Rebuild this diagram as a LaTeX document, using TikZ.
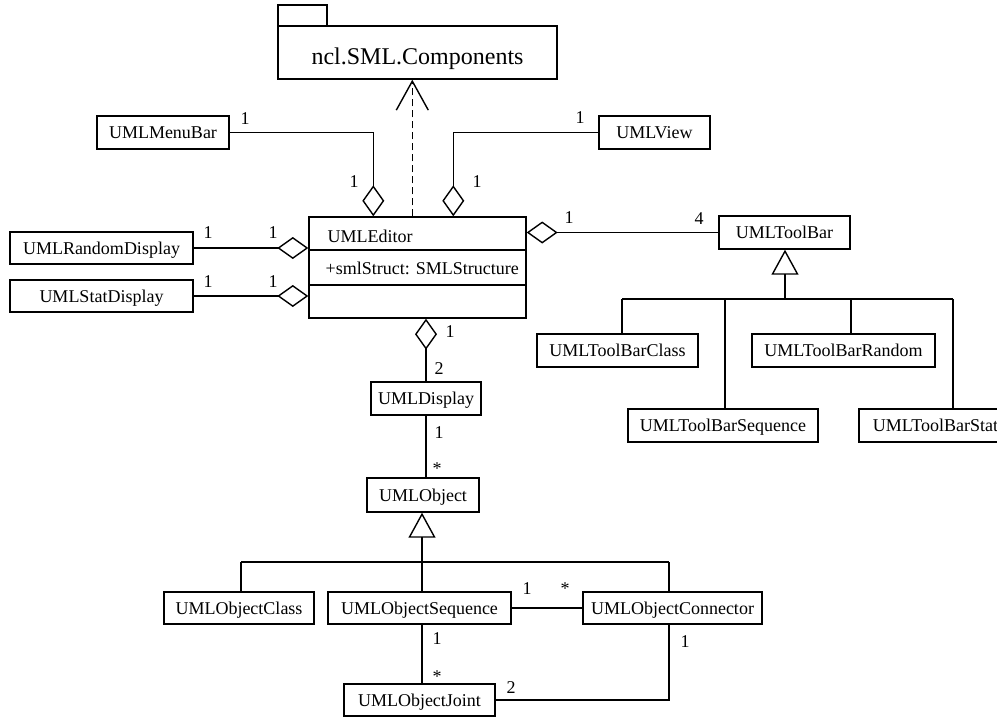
\documentclass[tikz,border=0pt]{standalone}
\usepackage{fontspec}
\setmainfont{Liberation Serif}
\usetikzlibrary{arrows.meta}
\begin{document}
\begin{tikzpicture}[x=1pt,y=-1pt,line width=1.4pt,
  cls/.style={draw, inner sep=0pt, text height=12pt, text depth=0pt,
              font=\fontsize{18}{20}\selectfont},
  lab/.style={inner sep=0pt, font=\fontsize{18}{20}\selectfont},
  star/.style={inner sep=0pt, font=\fontsize{18}{20}\selectfont, yshift=-3pt},
  agg/.style={-{Diamond[open,length=31pt,width=22pt]}},
  inh/.style={-{Triangle[open,length=25pt,width=27pt]}},
  dep/.style={dash pattern=on 7pt off 4pt,-{Straight Barb[length=29pt,width=32pt]}}]
\useasboundingbox (0,0) rectangle (997,717);
\clip (0,0) rectangle (997,717);

% package
\draw (278,5) rectangle (327,26);
\node[draw, inner sep=0pt, minimum width=279pt, minimum height=53pt] (pkg) at (417.5,52.5) {};
\node[inner sep=0pt, text height=16pt, text depth=0pt, font=\fontsize{24}{28}\selectfont]
  (pkgname) at (417.5,56.5) {ncl.SML.Components};

% editor class with compartments
\node[draw, inner sep=0pt, minimum width=217pt, minimum height=101pt] (editor) at (417.5,267.5) {};
\draw (309,250) -- (526,250);
\draw (309,285) -- (526,285);
\node[lab, anchor=base west] (edname) at (327,242) {UMLEditor};
\node[lab, anchor=base west] (edattr) at (325,274) {+smlStruct: SMLStructure};

% classes
\node[cls, minimum width=132pt, minimum height=33pt] (menubar) at (163,132.5) {UMLMenuBar};
\node[cls, minimum width=111pt, minimum height=33pt] (view) at (654.5,132.5) {UMLView};
\node[cls, minimum width=183pt, minimum height=32pt] (random) at (101.5,248) {UMLRandomDisplay};
\node[cls, minimum width=183pt, minimum height=32pt] (stat) at (101.5,296) {UMLStatDisplay};
\node[cls, minimum width=131pt, minimum height=33pt] (toolbar) at (784.5,232.5) {UMLToolBar};
\node[cls, minimum width=161pt, minimum height=33pt] (tbclass) at (617.5,350.5) {UMLToolBarClass};
\node[cls, minimum width=183pt, minimum height=33pt] (tbrandom) at (843.5,350.5) {UMLToolBarRandom};
\node[cls, minimum width=190pt, minimum height=33pt] (tbseq) at (723,425.5) {UMLToolBarSequence};
\node[cls, minimum width=153pt, minimum height=33pt] (tbstat) at (935.5,425.5) {UMLToolBarStat};
\node[cls, minimum width=110pt, minimum height=33pt] (display) at (426,398.5) {UMLDisplay};
\node[cls, minimum width=112pt, minimum height=34pt] (object) at (423,495) {UMLObject};
\node[cls, minimum width=150pt, minimum height=32pt] (objclass) at (239,608) {UMLObjectClass};
\node[cls, minimum width=183pt, minimum height=32pt] (objseq) at (419.5,608) {UMLObjectSequence};
\node[cls, minimum width=179pt, minimum height=32pt] (objconn) at (672.5,608) {UMLObjectConnector};
\node[cls, minimum width=151pt, minimum height=32pt] (objjoint) at (419.5,700) {UMLObjectJoint};

% dependency on the package
\draw[dep] ([xshift=104pt]editor.north west) -- ([xshift=104pt]editor.north west |- pkg.south);

% aggregations into the editor
\draw[agg] (menubar.east) -| ([xshift=65pt]editor.north west);
\draw[agg] (view.west) -| ([xshift=145pt]editor.north west);
\draw[agg] (random.east) -- (random.east -| editor.west);
\draw[agg] (stat.east) -- (stat.east -| editor.west);
\draw[agg] (toolbar.west) -- (toolbar.west -| editor.east);
\draw[agg] (display.north) -- (display.north |- editor.south);

% display to object
\draw (display.south) -- (display.south |- object.north);

% toolbar hierarchy
\coordinate (tj) at (785,299);
\coordinate (tb1) at (622,299);
\coordinate (tb2) at (725,299);
\coordinate (tb3) at (851,299);
\coordinate (tb4) at (953,299);
\draw[inh] (tj) -- (tj |- toolbar.south);
\draw (tb1) -- (tb4);
\draw (tb1) -- (tb1 |- tbclass.north);
\draw (tb2) -- (tb2 |- tbseq.north);
\draw (tb3) -- (tb3 |- tbrandom.north);
\draw (tb4) -- (tb4 |- tbstat.north);

% object hierarchy
\coordinate (oj) at (422,562);
\coordinate (ob1) at (241,562);
\coordinate (ob2) at (669,562);
\draw[inh] (oj |- objseq.north) -- (oj |- object.south);
\draw (ob1) -- (ob2);
\draw (ob1) -- (ob1 |- objclass.north);
\draw (ob2) -- (ob2 |- objconn.north);

% object associations
\draw (objseq.east) -- (objconn.west);
\draw (oj |- objseq.south) -- (oj |- objjoint.north);
\draw (objjoint.east) -| (ob2 |- objconn.south);

% multiplicities
\node[lab] (m1) at (245,119) {1};
\node[lab] (m2) at (354,182) {1};
\node[lab] (m3) at (580,118) {1};
\node[lab] (m4) at (477,182) {1};
\node[lab] (m5) at (208,233) {1};
\node[lab] (m6) at (273,233) {1};
\node[lab] (m7) at (208,282) {1};
\node[lab] (m8) at (273,282) {1};
\node[lab] (m9) at (569,218) {1};
\node[lab] (m10) at (699,219) {4};
\node[lab] (m11) at (450,332) {1};
\node[lab] (m12) at (439,369) {2};
\node[lab] (m13) at (439,433) {1};
\node[star] (m14) at (437,466) {*};
\node[lab] (m15) at (527,589) {1};
\node[star] (m16) at (565,586) {*};
\node[lab] (m17) at (437,639) {1};
\node[star] (m18) at (437,674) {*};
\node[lab] (m19) at (511,688) {2};
\node[lab] (m20) at (685,642) {1};
\end{tikzpicture}
\end{document}
